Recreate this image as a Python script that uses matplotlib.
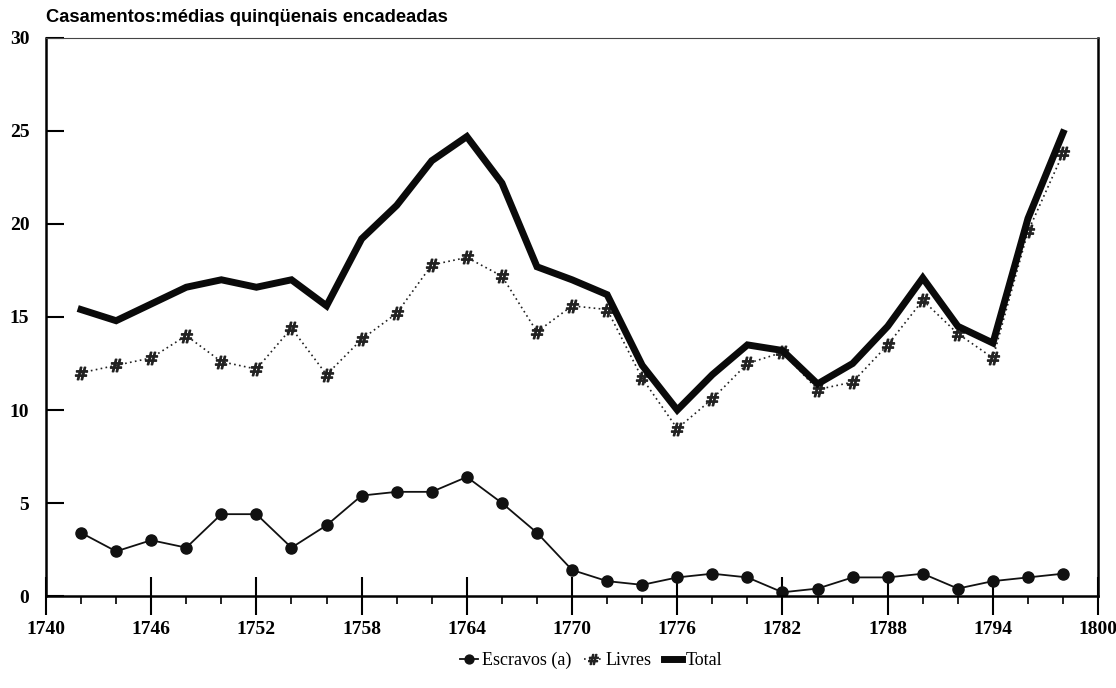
import matplotlib
matplotlib.use("Agg")
import matplotlib.pyplot as plt
import numpy as np

years = list(range(1742, 1800, 2))
escravos = [3.4, 2.4, 3.0, 2.6, 4.4, 4.4, 2.6, 3.8, 5.4, 5.6, 5.6, 6.4, 5.0, 3.4,
            1.4, 0.8, 0.6, 1.0, 1.2, 1.0, 0.2, 0.4, 1.0, 1.0, 1.2, 0.4, 0.8, 1.0, 1.2]
livres = [12.0, 12.4, 12.8, 14.0, 12.6, 12.2, 14.4, 11.9, 13.8, 15.2, 17.8, 18.2, 17.2, 14.2,
          15.6, 15.4, 11.7, 9.0, 10.6, 12.5, 13.1, 11.1, 11.5, 13.5, 15.9, 14.1, 12.8, 19.6, 23.8]
total = [15.4, 14.8, 15.7, 16.6, 17.0, 16.6, 17.0, 15.6, 19.2, 21.0, 23.4, 24.7, 22.2, 17.7,
         17.0, 16.2, 12.4, 10.0, 11.9, 13.5, 13.2, 11.4, 12.5, 14.5, 17.1, 14.5, 13.6, 20.3, 24.9]

x_major = list(range(1740, 1801, 6))
y_major = [0, 5, 10, 15, 20, 25, 30]

serif = ["Liberation Serif", "DejaVu Serif"]

fig = plt.figure(figsize=(11.16, 6.88), dpi=100)
ax = fig.add_axes([0.0412, 0.1337, 0.9428, 0.8111])

ax.plot(years, escravos, color="#111111", lw=1.3, marker="o", ms=8, label="Escravos (a)")
ax.plot(years, livres, color="#222222", lw=1.2, ls=(0, (1, 2)), marker="$\\#$", ms=9,
        label="Livres")
ax.plot(years, total, color="#0a0a0a", lw=5, solid_joinstyle="miter", label="Total")

ax.set_xlim(1740, 1800)
ax.set_ylim(0, 30)
ax.set_xticks(x_major)
ax.set_xticks(years, minor=True)
ax.set_yticks(y_major)
ax.tick_params(axis="x", which="major", direction="inout", length=28, width=1.5, pad=4)
ax.tick_params(axis="x", which="minor", direction="out", length=6, width=1.2)
ax.tick_params(axis="y", which="major", direction="in", length=13, width=1.5, pad=12)
for lab in ax.get_xticklabels() + ax.get_yticklabels():
    lab.set_fontfamily(serif)
    lab.set_fontweight("bold")
    lab.set_fontsize(14)

for side in ["left", "bottom", "right"]:
    ax.spines[side].set_linewidth(1.8)
ax.spines["top"].set_linewidth(0.8)
ax.spines["top"].set_color("#444444")

fig.text(0.0412, 0.962, "Casamentos:médias quinqüenais encadeadas", fontsize=13.2,
         fontweight="bold", family=["Liberation Sans", "DejaVu Sans"], ha="left", va="bottom")

fig.legend(loc="center", bbox_to_anchor=(0.53, 0.04), ncol=3, frameon=False,
           prop={"family": serif, "size": 13}, handlelength=1.0, handletextpad=0.2,
           columnspacing=0.7, markerscale=0.8)

fig.savefig("out.png", dpi=100)
